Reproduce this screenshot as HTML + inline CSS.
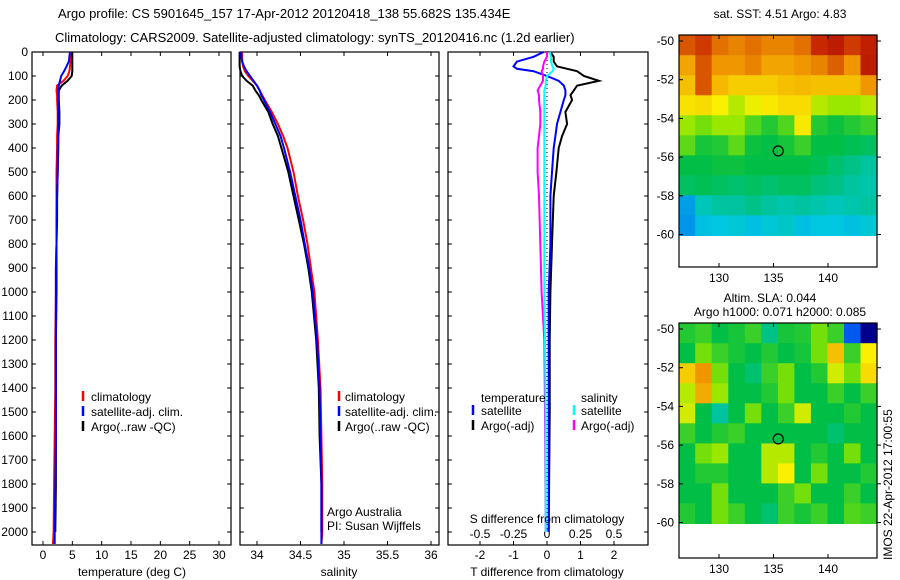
<!DOCTYPE html>
<html><head><meta charset="utf-8"><style>
body{margin:0;background:#fff}
svg{display:block;font-family:"Liberation Sans",sans-serif}
</style></head><body>
<svg id="c" width="900" height="580" viewBox="0 0 900 580" xmlns="http://www.w3.org/2000/svg">
<text x="58" y="18" font-size="13">Argo profile: CS 5901645_157 17-Apr-2012 20120418_138 55.682S 135.434E</text>
<text x="55" y="42" font-size="13">Climatology: CARS2009. Satellite-adjusted climatology: synTS_20120416.nc (1.2d earlier)</text>
<text x="780" y="18" font-size="12" text-anchor="middle">sat. SST: 4.51 Argo: 4.83</text>
<text x="770" y="302" font-size="12" text-anchor="middle">Altim. SLA: 0.044</text>
<text x="780" y="316" font-size="12" text-anchor="middle">Argo h1000: 0.071 h2000: 0.085</text>
<text transform="translate(892,560) rotate(-90)" font-size="12">IMOS 22-Apr-2012 17:00:55</text>
<g id="g"></g>
</svg>
<script>
// ---- data ----
const depths=[0,20,40,60,80,100,120,140,160,180,200,250,300,350,400,500,600,700,800,900,1000,1200,1400,1600,1800,2000,2050];
const tempClim=[4.8,4.8,4.7,4.6,4.5,4.2,3.5,2.4,2.3,2.4,2.4,2.5,2.5,2.4,2.4,2.3,2.3,2.3,2.3,2.2,2.2,2.1,2.1,2.0,1.9,1.8,1.7];
const tempSat=[4.6,4.5,4.4,4.0,3.6,3.1,2.9,2.7,2.6,2.6,2.6,2.6,2.6,2.6,2.5,2.5,2.4,2.3,2.3,2.2,2.2,2.2,2.2,2.2,2.1,2.0,2.0];
const tempArgo=[5.0,5.0,5.0,5.0,5.0,4.9,4.2,3.2,2.7,2.7,2.7,2.8,2.8,2.6,2.6,2.5,2.4,2.4,2.3,2.3,2.3,2.2,2.2,2.2,2.2,2.1,null];
const salClim=[33.83,33.83,33.83,33.84,33.86,33.9,33.95,34.0,34.03,34.06,34.09,34.17,34.24,34.3,34.35,34.42,34.47,34.53,34.58,34.62,34.66,34.7,34.73,34.74,34.75,34.75,34.74];
const salSat=[33.82,33.82,33.83,33.85,33.88,33.92,33.96,34.0,34.03,34.05,34.08,34.15,34.21,34.27,34.31,34.38,34.44,34.5,34.55,34.6,34.64,34.69,34.72,34.73,34.74,34.74,34.74];
const salArgo=[33.8,33.8,33.8,33.8,33.81,33.83,33.88,33.95,33.98,34.02,34.05,34.13,34.18,34.24,34.28,34.36,34.42,34.48,34.54,34.59,34.63,34.68,34.71,34.72,34.74,34.74,null];
const diffDepths=[0,20,40,60,70,80,100,120,140,160,180,200,250,300,350,400,500,600,800,1000,1200,1500,2000];
const dTsat=[-0.1,-0.4,-0.9,-1.0,-0.9,-0.4,0.0,0.35,0.5,0.55,0.55,0.5,0.4,0.3,0.25,0.2,0.15,0.1,0.1,0.05,0.05,0.05,0.05];
const dTargo=[0.1,0.2,0.2,0.3,0.6,0.9,1.1,1.55,0.9,0.8,0.7,0.75,0.55,0.6,0.45,0.35,0.28,0.2,0.15,0.1,0.08,0.08,0.05];
const dSsat=[0.02,0.03,0.03,0.04,0.05,0.04,0.0,-0.01,-0.01,-0.02,-0.02,-0.02,-0.02,-0.02,-0.02,-0.02,-0.02,-0.02,-0.02,-0.02,-0.015,-0.01,-0.01];
const dSargo=[0,0,-0.02,-0.03,-0.03,-0.04,-0.03,-0.03,-0.05,-0.07,-0.06,-0.06,-0.05,-0.05,-0.06,-0.07,-0.07,-0.06,-0.05,-0.04,-0.02,-0.015,-0.01];
const depthTicks=[0,100,200,300,400,500,600,700,800,900,1000,1100,1200,1300,1400,1500,1600,1700,1800,1900,2000];
const tempTicks=[0,5,10,15,20,25,30];
const salTicks=[34,34.5,35,35.5,36];
const dTTicks=[-2,-1,0,1,2];
const dSTicks=[-0.5,-0.25,0,0.25,0.5];
const lonTicks=[130,135,140];
const latTicks=[-50,-52,-54,-56,-58,-60];
const sst=[
[0.85,0.88,0.82,0.8,0.82,0.8,0.8,0.82,0.9,0.93,0.88,0.92],
[0.76,0.85,0.78,0.78,0.8,0.76,0.76,0.78,0.8,0.84,0.78,0.93],
[0.72,0.85,0.73,0.7,0.7,0.7,0.72,0.73,0.72,0.72,0.72,0.78],
[0.67,0.68,0.65,0.6,0.64,0.66,0.68,0.68,0.6,0.58,0.58,0.6],
[0.58,0.55,0.58,0.58,0.52,0.48,0.52,0.66,0.48,0.46,0.48,0.5],
[0.53,0.47,0.48,0.53,0.46,0.45,0.47,0.5,0.45,0.45,0.44,0.43],
[0.45,0.45,0.46,0.46,0.45,0.45,0.45,0.45,0.44,0.42,0.4,0.38],
[0.43,0.44,0.43,0.42,0.43,0.42,0.43,0.43,0.41,0.4,0.38,0.37],
[0.28,0.36,0.38,0.38,0.4,0.38,0.37,0.38,0.37,0.36,0.37,0.38],
[0.27,0.32,0.33,0.34,0.32,0.34,0.35,0.32,0.33,0.33,0.32,0.34]];
const sla=[
[0.48,0.5,0.45,0.47,0.5,0.4,0.47,0.48,0.55,0.5,0.2,0.1],
[0.45,0.55,0.5,0.47,0.45,0.48,0.45,0.47,0.55,0.72,0.5,0.65],
[0.7,0.78,0.55,0.45,0.42,0.5,0.55,0.45,0.48,0.62,0.55,0.68],
[0.6,0.75,0.58,0.45,0.45,0.48,0.55,0.45,0.45,0.5,0.45,0.5],
[0.62,0.45,0.38,0.45,0.55,0.45,0.5,0.62,0.45,0.45,0.48,0.45],
[0.5,0.45,0.48,0.5,0.45,0.45,0.45,0.45,0.45,0.42,0.45,0.45],
[0.45,0.55,0.58,0.45,0.45,0.6,0.6,0.45,0.48,0.45,0.55,0.45],
[0.45,0.48,0.48,0.45,0.45,0.6,0.65,0.45,0.55,0.45,0.45,0.48],
[0.45,0.45,0.55,0.45,0.45,0.45,0.5,0.55,0.45,0.45,0.5,0.45],
[0.48,0.45,0.55,0.5,0.45,0.42,0.5,0.47,0.5,0.45,0.52,0.5]];
const argoLon=135.434, argoLat=-55.682;

// ---- drawing ----
const NS="http://www.w3.org/2000/svg";
const G=document.getElementById('g');
function el(t,a,p){const e=document.createElementNS(NS,t);for(const k in a)e.setAttribute(k,a[k]);(p||G).appendChild(e);return e;}
const yD=d=>52+d*0.24;
const xT=t=>43+t*5.867;
const xS=s=>257+(s-34)*87;
const xdT=t=>547+t*33.5;
const xdS=s=>547+s*134;
const PB=545;

function frame(x0,x1,name){
  const r=el('rect',{x:x0,y:52,width:x1-x0,height:PB-52,fill:'none',stroke:'#000','stroke-width':1.2});
  
  
  depthTicks.forEach(d=>{
    el('line',{x1:x0,x2:x0+4,y1:yD(d),y2:yD(d),stroke:'#000'});
    el('line',{x1:x1-4,x2:x1,y1:yD(d),y2:yD(d),stroke:'#000'});
  });
}
function xticks(vals,fx,labelY,name,top){
  vals.forEach(v=>{
    const x=fx(v);
    el('line',{x1:x,x2:x,y1:PB,y2:PB-4,stroke:'#000'});
    if(top)el('line',{x1:x,x2:x,y1:52,y2:56,stroke:'#000'});
    if(labelY){const t=el('text',{x:x,y:labelY,'font-size':12,'text-anchor':'middle'});t.textContent=String(v);
    
    }
  });
}
function line(xs,ds,fx,color,name,w){
  let p='';xs.forEach((v,i)=>{if(v===null)return;p+=(p?'L':'M')+fx(v).toFixed(1)+','+yD(ds[i]).toFixed(1);});
  const e=el('path',{d:p,fill:'none',stroke:color,'stroke-width':w||2});
  
  
}
function txt(x,y,s,name,anchor){const t=el('text',{x:x,y:y,'font-size':12,'text-anchor':anchor||'start'});t.textContent=s;
  
  return t;}
function mark(x,y,c){el('line',{x1:x,x2:x,y1:y-10,y2:y,stroke:c,'stroke-width':2.5});}

depthTicks.forEach(d=>{txt(28,yD(d)+4,String(d),'depth-tick-label','end');});

// panel 1 temperature
frame(32,231,'temperature-panel');
xticks(tempTicks,xT,559,'temperature-tick-label',true);
line(tempClim,depths,xT,'#f00','temp-climatology-line');
line(tempArgo,depths,xT,'#000','temp-argo-line');
line(tempSat,depths,xT,'#00f','temp-satellite-line');
txt(132,576,'temperature (deg C)','temperature-axis-title','middle');
mark(83,401,'#f00');txt(91,401,'climatology','legend-climatology');
mark(83,416,'#00f');txt(91,416,'satellite-adj. clim.','legend-satellite-adj');
mark(83,431,'#000');txt(91,431,'Argo(..raw -QC)','legend-argo');

// panel 2 salinity
frame(240,439,'salinity-panel');
xticks(salTicks,xS,559,'salinity-tick-label',true);
line(salClim,depths,xS,'#f00','sal-climatology-line');
line(salArgo,depths,xS,'#000','sal-argo-line');
line(salSat,depths,xS,'#00f','sal-satellite-line');
txt(339,576,'salinity','salinity-axis-title','middle');
mark(339,401,'#f00');txt(345,401,'climatology','legend-climatology');
mark(339,416,'#00f');txt(345,416,'satellite-adj. clim.','legend-satellite-adj');
mark(339,431,'#000');txt(345,431,'Argo(..raw -QC)','legend-argo');
txt(327,516,'Argo Australia','credit-line-1');
txt(327,530,'PI: Susan Wijffels','credit-line-2');

// panel 3 differences
frame(448,648,'difference-panel');
xticks(dTTicks,xdT,559,'t-diff-tick-label',true);
dSTicks.forEach(v=>txt(xdS(v),538,String(v),'s-diff-tick-label','middle'));
el('line',{x1:547,x2:547,y1:yD(0),y2:yD(2000),stroke:'#000','stroke-dasharray':'1,3'});
line(dTargo,diffDepths,xdT,'#000','t-diff-argo-line');
line(dTsat,diffDepths,xdT,'#00f','t-diff-satellite-line');
line(dSargo,diffDepths,xdS,'#f0f','s-diff-argo-line');
line(dSsat,diffDepths,xdS,'#0ff','s-diff-satellite-line');
txt(481,402,'temperature','legend-temperature-header');
mark(473,415,'#00f');txt(481,415,'satellite','legend-t-satellite');
mark(473,430,'#000');txt(481,430,'Argo(-adj)','legend-t-argo');
txt(581,402,'salinity','legend-salinity-header');
mark(574,415,'#0ff');txt(581,415,'satellite','legend-s-satellite');
mark(574,430,'#f0f');txt(581,430,'Argo(-adj)','legend-s-argo');
txt(547,523,'S difference from climatology','s-diff-axis-title','middle');
txt(547,576,'T difference from climatology','t-diff-axis-title','middle');

// maps
const stops=[[0,[0,0,130]],[0.1,[0,0,140]],[0.2,[0,90,240]],[0.33,[0,200,225]],[0.45,[0,190,70]],[0.57,[140,230,0]],[0.65,[250,240,0]],[0.78,[240,150,0]],[0.9,[200,40,0]],[1,[160,0,0]]];
function cmap(v){
  for(let i=1;i<stops.length;i++){
    if(v<=stops[i][0]||i===stops.length-1){
      const a=stops[i-1],b=stops[i];const t=Math.max(0,Math.min(1,(v-a[0])/(b[0]-a[0])));
      return 'rgb('+a[1].map((c,k)=>Math.round(c+(b[1][k]-c)*t)).join(',')+')';
    }
  }
}
function map(grid,top,bottom,name){
  const x0=679,x1=877,lat50=top+6;
  const fx=lon=>719+(lon-130)*10.9;
  const fy=lat=>lat50+(-50-lat)*19.35;
  const rows=grid.length,cols=grid[0].length;
  const lonMin=126.3,lonMax=144.5,latMax=-49.7,latMin=-60.05;
  const dl=(lonMax-lonMin)/cols, dt=(latMax-latMin)/rows;
  grid.forEach((row,i)=>row.forEach((v,j)=>{
    const xa=fx(lonMin+j*dl),xb=fx(lonMin+(j+1)*dl);
    const ya=fy(latMax-i*dt),yb=fy(latMax-(i+1)*dt);
    const r=el('rect',{x:xa.toFixed(1),y:ya.toFixed(1),width:(xb-xa+0.6).toFixed(1),height:(yb-ya+0.6).toFixed(1),fill:cmap(v)});
    
    
  }));
  const f=el('rect',{x:x0,y:top,width:x1-x0,height:bottom-top,fill:'none',stroke:'#000','stroke-width':1.2});
  
  
  latTicks.forEach(l=>{const y=fy(l);
    el('line',{x1:x0,x2:x0+4,y1:y,y2:y,stroke:'#000'});el('line',{x1:x1,x2:x1+4,y1:y,y2:y,stroke:'#000'});
    txt(674,y+4,String(l),name+'-lat-label','end');});
  lonTicks.forEach(l=>{const x=fx(l);
    el('line',{x1:x,x2:x,y1:bottom,y2:bottom-4,stroke:'#000'});el('line',{x1:x,x2:x,y1:top,y2:top+4,stroke:'#000'});
    txt(x,bottom+15,String(l),name+'-lon-label','middle');});
  const c=el('circle',{cx:fx(argoLon),cy:fy(argoLat),r:5,fill:'none',stroke:'#000','stroke-width':1.2});
  
  
}
map(sst,35,267,'sst-map');
map(sla,323,558,'sla-map');
</script>
</body></html>
